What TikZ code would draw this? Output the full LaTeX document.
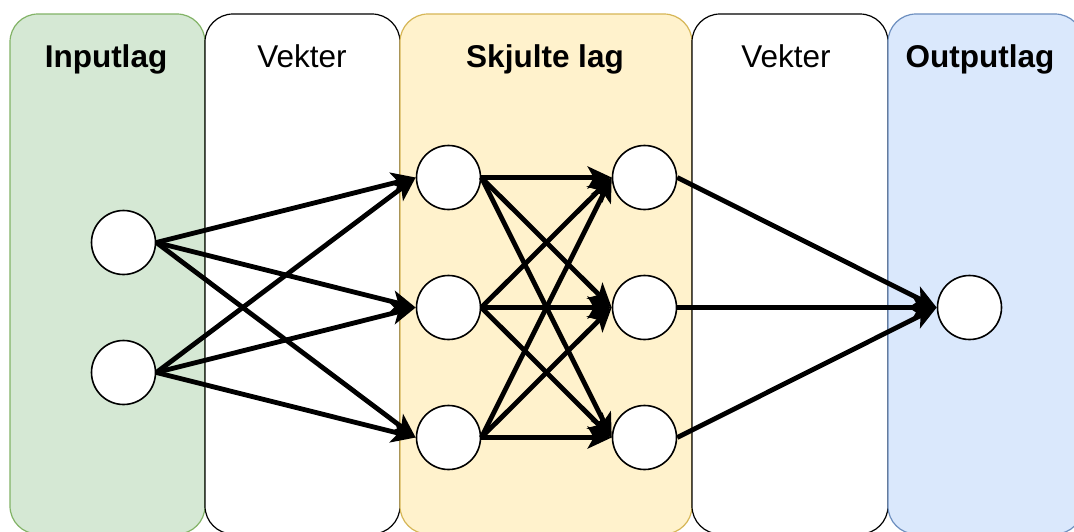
\documentclass[tikz,border=0pt]{standalone}
\usepackage{fontspec}
\setmainfont{Liberation Sans}
\usetikzlibrary{arrows.meta}

\definecolor{inFill}{HTML}{D5E8D4}
\definecolor{inLine}{HTML}{82B366}
\definecolor{hidFill}{HTML}{FFF2CC}
\definecolor{hidLine}{HTML}{D6B656}
\definecolor{outFill}{HTML}{DAE8FC}
\definecolor{outLine}{HTML}{6C8EBF}

\tikzset{
  panel/.style={rounded corners=28pt, line width=1.2pt},
  title/.style={anchor=base, inner sep=0pt, font=\fontsize{31.5}{36}\selectfont},
  boldtitle/.style={title, font=\fontsize{31.5}{36}\selectfont\bfseries},
  neuron/.style={circle, draw=black, fill=white, line width=1.6pt,
                 minimum size=64pt, inner sep=0pt},
  weight/.style={line width=4.8pt, -{Stealth[length=24pt, width=22pt, inset=6pt]}},
}

\begin{document}
\begin{tikzpicture}[x=1pt, y=1pt]
  \useasboundingbox (0,0) rectangle (1074,-531);
  \clip (0,0) rectangle (1074,-531);
  \fill[white] (0,0) rectangle (1074,-531);

  % layer columns
  \draw[panel, draw=inLine, fill=inFill]   (10,-14)  rectangle (205,-534);
  \draw[panel, draw=black, fill=white]     (205,-14) rectangle (400,-534);
  \draw[panel, draw=hidLine, fill=hidFill] (400,-14) rectangle (692,-534);
  \draw[panel, draw=black, fill=white]     (692,-14) rectangle (888,-534);
  \draw[panel, draw=outLine, fill=outFill] (888,-14) rectangle (1083,-534);

  % column headings
  \node[boldtitle] (tIn)  at (106,-67) {Inputlag};
  \node[title]     (tW1)  at (302,-67) {Vekter};
  \node[boldtitle] (tHid) at (545,-67) {Skjulte lag};
  \node[title]     (tW2)  at (786,-67) {Vekter};
  \node[boldtitle] (tOut) at (980,-67) {Outputlag};

  % neurons
  \node[neuron] (i1) at (123.5,-242.5) {};
  \node[neuron] (i2) at (123.5,-372.5) {};
  \node[neuron] (a1) at (448.5,-177.5) {};
  \node[neuron] (a2) at (448.5,-307.5) {};
  \node[neuron] (a3) at (448.5,-437.5) {};
  \node[neuron] (b1) at (644.5,-177.5) {};
  \node[neuron] (b2) at (644.5,-307.5) {};
  \node[neuron] (b3) at (644.5,-437.5) {};
  \node[neuron] (o1) at (969.5,-307.5) {};

  % weights: input -> first hidden layer
  \foreach \s in {i1,i2}
    \foreach \t in {a1,a2,a3}
      \draw[weight] (\s.east) -- (\t.west);
  % weights: first -> second hidden layer
  \foreach \s in {a1,a2,a3}
    \foreach \t in {b1,b2,b3}
      \draw[weight] (\s.east) -- (\t.west);
  % weights: second hidden layer -> output
  \foreach \s in {b1,b2,b3}
    \draw[weight] (\s.east) -- (o1.west);
\end{tikzpicture}
\end{document}
